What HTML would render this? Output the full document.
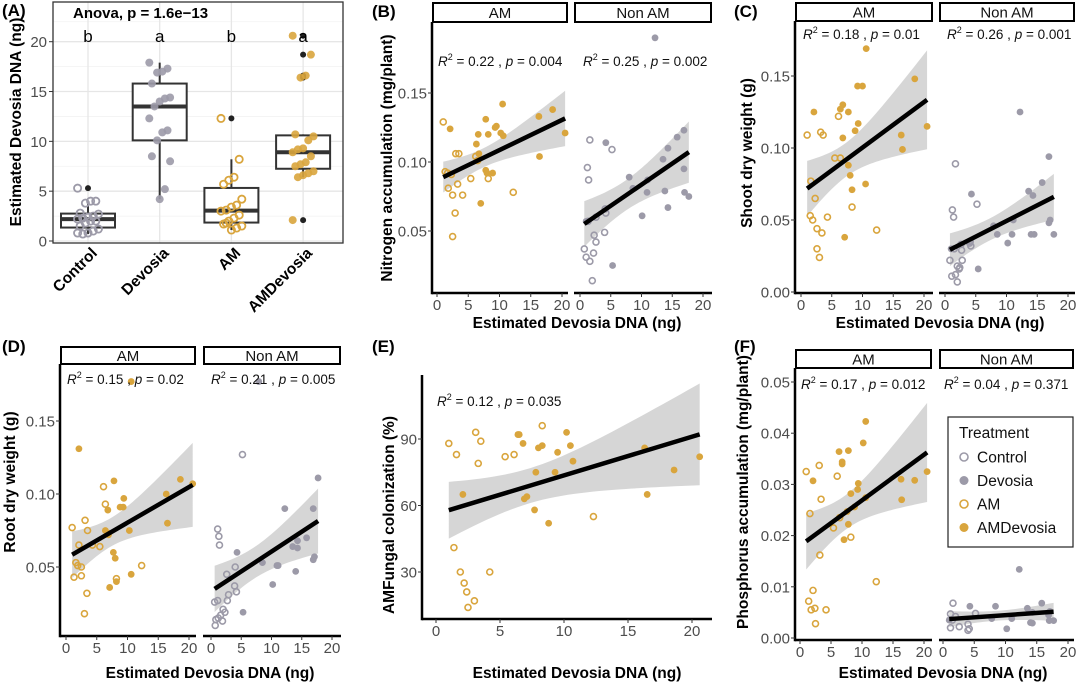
<!DOCTYPE html>
<html><head><meta charset="utf-8"><style>
html,body{margin:0;padding:0;background:#fff;}
svg{display:block;font-family:"Liberation Sans",Arial,sans-serif;}
</style></head><body>
<svg id="fig" width="1080" height="683" viewBox="0 0 1080 683" xmlns="http://www.w3.org/2000/svg"></svg>
<script>
// ===== Panel A data =====
const aCategories = ["Control","Devosia","AM","AMDevosia"];
const aControl = [5.3,4.0,4.0,3.8,2.8,2.7,2.5,2.4,2.3,2.2,2.0,2.0,1.8,1.5,1.2,1.0,0.8,0.7,0.8];
const aDevosia = [17.9,17.3,17.0,16.9,15.8,14.4,14.3,14.0,13.5,12.3,11.1,10.9,10.1,8.5,8.0,5.2,4.2];
const aAM = [12.3,8.2,6.4,6.1,5.7,4.2,3.6,3.4,3.1,3.0,2.6,2.3,2.0,1.7,1.5,1.3,1.1,1.8];
const aAMDevosia = [20.6,18.7,16.6,16.4,10.7,10.5,10.1,9.3,9.2,8.9,8.5,7.9,7.7,7.5,7.0,6.8,6.6,6.4,2.1];
const aLetters = ["b","a","b","a"];
const aTicks = [0,5,10,15,20];
// ===== Panel B =====
const bAmFilled = [[10.5,0.142],[18.5,0.138],[16.3,0.133],[7.8,0.131],[9.3,0.125],[9.5,0.126],[2.1,0.124],[6.6,0.120],[8.2,0.120],[10.2,0.121],[10.6,0.119],[20.5,0.121],[6.3,0.113],[6.7,0.106],[16.4,0.104],[7.8,0.094],[8.0,0.092],[8.9,0.092],[7.0,0.070]];
const bAmHollow = [[1.0,0.129],[3.0,0.106],[3.5,0.106],[6.2,0.104],[6.5,0.101],[1.3,0.093],[1.7,0.092],[2.3,0.091],[5.4,0.088],[8.2,0.088],[3.3,0.084],[1.8,0.081],[2.5,0.076],[4.1,0.076],[12.2,0.078],[2.9,0.063],[2.5,0.046]];
const bNonFilled = [[12.2,0.190],[4.2,0.114],[16.9,0.123],[15.8,0.118],[14.3,0.110],[13.5,0.102],[16.9,0.095],[8.0,0.089],[8.6,0.081],[11.0,0.087],[10.9,0.078],[13.8,0.079],[17.0,0.078],[17.7,0.075],[14.3,0.067],[10.1,0.061],[5.3,0.025],[1.0,0.057]];
const bNonHollow = [[1.6,0.116],[1.2,0.096],[1.4,0.087],[5.2,0.109],[4.1,0.066],[4.2,0.063],[2.6,0.060],[2.3,0.047],[2.6,0.042],[4.0,0.049],[0.7,0.037],[1.0,0.031],[1.6,0.028],[2.2,0.034],[2.0,0.014],[1.3,0.057]];
const bTicks = [0.05,0.10,0.15];
// ===== Panel C =====
const cAmFilled = [[10.6,0.169],[18.5,0.148],[9.2,0.143],[10.0,0.143],[2.1,0.125],[6.8,0.130],[6.4,0.127],[7.7,0.125],[9.3,0.117],[8.8,0.112],[6.8,0.107],[16.3,0.109],[20.5,0.115],[16.5,0.099],[7.7,0.088],[8.0,0.081],[10.5,0.075],[8.3,0.071],[7.1,0.038]];
const cAmHollow = [[1.0,0.109],[6.1,0.122],[3.2,0.111],[3.6,0.109],[5.5,0.093],[6.4,0.093],[1.6,0.077],[2.3,0.065],[8.3,0.059],[4.3,0.052],[1.5,0.053],[1.9,0.050],[2.6,0.044],[3.4,0.041],[12.3,0.043],[2.6,0.030],[3.0,0.024]];
const cNonFilled = [[12.2,0.125],[16.9,0.094],[15.8,0.076],[13.6,0.070],[14.3,0.067],[4.3,0.068],[17.1,0.050],[16.9,0.048],[11.1,0.050],[7.9,0.046],[8.5,0.040],[10.9,0.040],[14.0,0.040],[14.5,0.040],[17.7,0.040],[10.2,0.034],[5.4,0.016],[1.0,0.030]];
const cNonHollow = [[1.7,0.089],[5.2,0.061],[1.2,0.057],[1.4,0.052],[4.1,0.035],[4.2,0.032],[2.6,0.033],[2.7,0.029],[2.8,0.022],[0.8,0.022],[2.0,0.018],[2.3,0.016],[1.1,0.011],[1.7,0.012],[2.0,0.007],[1.5,0.030],[4.0,0.034],[2.4,0.017]];
const cTicks = [0.00,0.05,0.10,0.15];
// ===== Panel D =====
const dAmFilled = [[10.6,0.177],[2.1,0.131],[7.8,0.109],[18.6,0.110],[20.6,0.107],[9.4,0.097],[16.3,0.100],[8.8,0.091],[9.3,0.091],[6.8,0.089],[6.4,0.075],[10.3,0.075],[6.9,0.072],[16.5,0.080],[7.7,0.060],[8.0,0.056],[10.6,0.045],[8.2,0.040],[7.1,0.036]];
const dAmHollow = [[1.0,0.077],[6.1,0.105],[6.4,0.093],[3.1,0.082],[3.5,0.075],[2.1,0.065],[4.3,0.065],[5.5,0.064],[6.8,0.073],[1.6,0.053],[1.9,0.051],[2.5,0.050],[1.3,0.043],[2.5,0.044],[8.2,0.042],[12.3,0.051],[3.4,0.032],[3.0,0.018]];
const dNonFilled = [[7.9,0.177],[17.7,0.111],[12.2,0.090],[16.9,0.090],[15.8,0.070],[14.3,0.068],[13.5,0.064],[14.3,0.063],[8.5,0.053],[10.9,0.051],[11.1,0.051],[16.9,0.055],[17.1,0.057],[14.0,0.047],[4.3,0.060],[10.2,0.038],[5.3,0.019]];
const dNonHollow = [[5.2,0.127],[1.1,0.076],[1.3,0.071],[1.4,0.065],[4.0,0.050],[2.6,0.045],[3.9,0.037],[4.2,0.033],[2.9,0.031],[2.7,0.027],[0.6,0.026],[1.1,0.027],[2.0,0.021],[2.3,0.019],[0.8,0.014],[1.2,0.015],[1.9,0.013],[0.7,0.010],[1.6,0.017]];
const dTicks = [0.05,0.10,0.15];
// ===== Panel E =====
const eFilled = [[6.4,92],[6.5,92],[10.2,93],[6.8,88],[8.0,86],[8.3,87],[10.5,87],[9.5,84],[16.3,86],[20.6,82],[10.7,80],[7.8,75],[9.3,75],[18.6,76],[2.1,65],[16.5,65],[7.1,64],[6.9,63],[7.7,58],[8.8,52]];
const eHollow = [[8.3,96],[3.1,93],[1.0,88],[3.5,89],[1.6,83],[5.4,82],[6.1,83],[3.3,79],[12.3,55],[1.4,41],[1.9,30],[4.2,30],[2.2,25],[2.4,21],[3.0,17],[2.5,14]];
const eTicks = [30,60,90];
// ===== Panel F =====
const fAmFilled = [[10.6,0.0423],[10.2,0.0381],[6.3,0.0364],[7.8,0.0366],[6.8,0.0344],[6.8,0.034],[2.1,0.0307],[9.4,0.0302],[9.3,0.029],[8.2,0.0282],[16.3,0.031],[18.5,0.0308],[20.5,0.0325],[16.4,0.027],[10.6,0.0274],[8.8,0.0256],[7.6,0.0247],[7.8,0.0222],[7.1,0.0192]];
const fAmHollow = [[1.0,0.0325],[3.1,0.0337],[6.0,0.0316],[3.4,0.0271],[1.6,0.0243],[6.4,0.0235],[5.4,0.0215],[8.2,0.0197],[3.2,0.0162],[12.3,0.011],[2.1,0.0093],[1.4,0.0072],[1.8,0.0055],[2.4,0.0058],[4.2,0.0055],[2.5,0.0028]];
const fNonFilled = [[12.2,0.0134],[15.8,0.0068],[4.3,0.0062],[8.4,0.0062],[13.5,0.0058],[14.3,0.005],[17.1,0.0052],[16.9,0.0045],[7.8,0.0038],[11.0,0.0038],[17.0,0.0034],[17.7,0.0034],[14.0,0.003],[14.3,0.0029],[10.2,0.0018],[1.0,0.0035]];
const fNonHollow = [[1.6,0.0068],[1.2,0.0047],[5.2,0.0048],[1.5,0.0035],[2.6,0.0022],[1.2,0.002],[4.0,0.0027],[4.0,0.0015],[4.2,0.0018],[2.0,0.0042]];
const fTicks = [0.00,0.01,0.02,0.03,0.04,0.05];
const xTicks = [0,5,10,15,20];
const legendLabels = ["Control","Devosia","AM","AMDevosia"];

const GRAY="#9c9aa8", ORANGE="#d9a53d";
const svg=document.getElementById('fig');
const NS="http://www.w3.org/2000/svg";
function mk(tag,attrs,parent,txt){const e=document.createElementNS(NS,tag);for(const k in attrs)e.setAttribute(k,attrs[k]);if(txt!==undefined)e.textContent=txt;(parent||svg).appendChild(e);return e;}
function lin(d0,p0,d1,p1){return v=>p0+(v-d0)*(p1-p0)/(d1-d0);}

function label(x,y,t){const e=mk('text',{x:x,y:y,'font-size':17,'font-weight':'bold',fill:'#000'},svg,t);

}

function ytitle(x,y,t){const e=mk('text',{x:x,y:y,'font-size':15.5,'font-weight':'bold','text-anchor':'middle',transform:`rotate(-90 ${x} ${y})`},svg,t);

}
function xtitle(x,y,t){const e=mk('text',{x:x,y:y,'font-size':15.5,'font-weight':'bold','text-anchor':'middle'},svg,t);

}

function r2text(x,y,r,p){const g=mk('text',{x:x,y:y,'font-size':13.5,fill:'#111'},svg);


mk('tspan',{'font-style':'italic'},g,'R');mk('tspan',{dy:-6,'font-size':9},g,'2');mk('tspan',{dy:6},g,' = '+r+' , ');mk('tspan',{'font-style':'italic'},g,'p');mk('tspan',{},g,' = '+p);}

function regress(pts){const n=pts.length;let mx=0,my=0;pts.forEach(p=>{mx+=p[0];my+=p[1];});mx/=n;my/=n;let sxx=0,sxy=0;pts.forEach(p=>{sxx+=(p[0]-mx)**2;sxy+=(p[0]-mx)*(p[1]-my);});const b=sxy/sxx,a=my-b*mx;let sse=0;pts.forEach(p=>{sse+=(p[1]-a-b*p[0])**2;});const s=Math.sqrt(sse/(n-2));return {a,b,mx,sxx,n,s};}

function ribbon(g,pts,xs,ys,name){const r=regress(pts);const xmin=Math.min(...pts.map(p=>p[0])),xmax=Math.max(...pts.map(p=>p[0]));const t=2.03;const up=[],lo=[];for(let i=0;i<=40;i++){const x=xmin+(xmax-xmin)*i/40;const yh=r.a+r.b*x;const se=r.s*Math.sqrt(1/r.n+(x-r.mx)**2/r.sxx);up.push(xs(x)+','+ys(yh+t*se));lo.unshift(xs(x)+','+ys(yh-t*se));}
const rb=mk('polygon',{points:up.concat(lo).join(' '),fill:'#999999','fill-opacity':0.4,stroke:'none'},g);

}
function regline(g,pts,xs,ys,name){const r=regress(pts);const xmin=Math.min(...pts.map(p=>p[0])),xmax=Math.max(...pts.map(p=>p[0]));
const ln=mk('line',{x1:xs(xmin),y1:ys(r.a+r.b*xmin),x2:xs(xmax),y2:ys(r.a+r.b*xmax),stroke:'#000','stroke-width':4.5,'stroke-linecap':'butt'},g);

}

function points(g,pts,xs,ys,color,filled,name){pts.forEach(p=>{const c=mk('circle',{cx:xs(p[0]),cy:ys(p[1]),r:filled?3.4:3.0,fill:filled?color:'none',stroke:color,'stroke-width':filled?0:1.6},g);

});}

function facet(f,name){const g=mk('g',{},svg);
const xs=lin(0,f.xz,20,f.x20),ys=lin(f.yref[0],f.yref[1],f.yref[2],f.yref[3]);
if(f.strip){const s=mk('rect',{x:f.x0+1,y:f.stripTop,width:f.x1-f.x0-2,height:f.stripH,fill:'#fff',stroke:'#000','stroke-width':2},g);


const st=mk('text',{x:(f.x0+f.x1)/2,y:f.stripTop+f.stripH/2+5.5,'font-size':15,'text-anchor':'middle',fill:'#111'},g,f.strip);

}
const all=f.filled.concat(f.hollow);
ribbon(g,all,xs,ys,name);
points(g,f.hollow,xs,ys,f.color,false,name+'-hollow-point');
points(g,f.filled,xs,ys,f.color,true,name+'-filled-point');
regline(g,all,xs,ys,name);
const bl=mk('line',{x1:f.x0,y1:f.bottom,x2:f.x1,y2:f.bottom,stroke:'#000','stroke-width':2.5},g);


xTicks.forEach(v=>{mk('line',{x1:xs(v),y1:f.bottom,x2:xs(v),y2:f.bottom+4,stroke:'#333','stroke-width':1},g);
const t=mk('text',{x:xs(v),y:f.bottom+17,'font-size':15,'text-anchor':'middle',fill:'#4d4d4d'},g,v);

});
if(f.leftAxis){const ll=mk('line',{x1:f.x0,y1:f.top,x2:f.x0,y2:f.bottom+1.2,stroke:'#000','stroke-width':2.5},g);


f.ticks.forEach(v=>{mk('line',{x1:f.x0-4,y1:ys(v),x2:f.x0,y2:ys(v),stroke:'#333','stroke-width':1},g);
const t=mk('text',{x:f.x0-5,y:ys(v)+5.5,'font-size':15,'text-anchor':'end',fill:'#4d4d4d'},g,f.fmt(v));

});}
r2text(f.annX,f.annY,f.r2,f.p);}
const f2=v=>v.toFixed(2);

// ===== Panel A =====
(function(){const g=mk('g',{},svg);
const L=53,R=343,T=2,B=243;const ys=lin(0,241,20,41.7);const cx=i=>88+i*71.7;
[2.5,7.5,12.5,17.5,22].forEach(v=>mk('line',{x1:L,x2:R,y1:ys(v),y2:ys(v),stroke:'#f2f2f2','stroke-width':0.8},g));
aTicks.forEach(v=>mk('line',{x1:L,x2:R,y1:ys(v),y2:ys(v),stroke:'#e6e6e6','stroke-width':1.3},g));
aCategories.forEach((c,i)=>mk('line',{x1:cx(i),x2:cx(i),y1:T,y2:B,stroke:'#e6e6e6','stroke-width':1.3},g));
const groups=[aControl,aDevosia,aAM,aAMDevosia];const cols=[GRAY,GRAY,ORANGE,ORANGE];const fill=[false,true,false,true];
function q(arr,p){const s=arr.slice().sort((a,b)=>a-b);const h=(s.length-1)*p;const lo=Math.floor(h);return s[lo]+(s[Math.min(lo+1,s.length-1)]-s[lo])*(h-lo);}
groups.forEach((arr,i)=>{const q1=q(arr,.25),q2=q(arr,.5),q3=q(arr,.75),iqr=q3-q1;const inl=arr.filter(v=>v>=q1-1.5*iqr&&v<=q3+1.5*iqr);const lo=Math.min(...inl),hi=Math.max(...inl);const x=cx(i),w=27;
mk('line',{x1:x,x2:x,y1:ys(hi),y2:ys(q3),stroke:'#333','stroke-width':2},g);mk('line',{x1:x,x2:x,y1:ys(q1),y2:ys(lo),stroke:'#333','stroke-width':2},g);
const bx=mk('rect',{x:x-w,y:ys(q3),width:2*w,height:ys(q1)-ys(q3),fill:'#fff',stroke:'#333','stroke-width':2},g);


mk('line',{x1:x-w,x2:x+w,y1:ys(q2),y2:ys(q2),stroke:'#333','stroke-width':4},g);
arr.filter(v=>v<q1-1.5*iqr||v>q3+1.5*iqr).forEach(v=>{const o=mk('circle',{cx:x,cy:ys(v),r:3,fill:'#222'},g);

});
arr.forEach((v,j)=>{const off=((j*7)%9-4)*2.6;const c=mk('circle',{cx:x+off,cy:ys(v),r:fill[i]?4:3.6,fill:fill[i]?cols[i]:'none',stroke:cols[i],'stroke-width':fill[i]?0:1.8,'fill-opacity':0.9},g);

});
const lt=mk('text',{x:x,y:42,'font-size':17,'text-anchor':'middle'},g,aLetters[i]);


const cl=mk('text',{x:x+10,y:254,'font-size':15.5,'font-weight':'bold','text-anchor':'end',transform:`rotate(-45 ${x+10} 254)`},g,aCategories[i]);

});
const br=mk('rect',{x:L,y:T,width:R-L,height:B-T,fill:'none',stroke:'#333','stroke-width':1.3},g);


aTicks.forEach(v=>{mk('line',{x1:L-4,x2:L,y1:ys(v),y2:ys(v),stroke:'#333'},g);const t=mk('text',{x:L-6,y:ys(v)+5.5,'font-size':15,'text-anchor':'end',fill:'#4d4d4d'},g,v);

});
const an=mk('text',{x:73,y:18,'font-size':15,'font-weight':'bold'},g,'Anova, p = 1.6e\u221213');


})();
label(2,16,'(A)');ytitle(21,122,'Estimated Devosia DNA (ng)');

// ===== Panel B =====
label(372,17,'(B)');
facet({x0:432,x1:568,top:22,bottom:293,xz:437,x20:562,yref:[0.05,231,0.10,162],strip:'AM',stripTop:3,stripH:19,leftAxis:true,ticks:bTicks,fmt:f2,filled:bAmFilled,hollow:bAmHollow,color:ORANGE,r2:'0.22',p:'0.004',annX:438,annY:66},'b-am');
facet({x0:574,x1:712,top:22,bottom:293,xz:580,x20:703,yref:[0.05,231,0.10,162],strip:'Non AM',stripTop:3,stripH:19,leftAxis:false,ticks:bTicks,fmt:f2,filled:bNonFilled,hollow:bNonHollow,color:GRAY,r2:'0.25',p:'0.002',annX:583,annY:66},'b-nonam');
ytitle(392,158,'Nitrogen accumulation (mg/plant)');xtitle(577,328,'Estimated Devosia DNA (ng)');

// ===== Panel C =====
label(734,17,'(C)');
facet({x0:795,x1:933,top:21,bottom:293,xz:801,x20:924,yref:[0,292,0.15,76],strip:'AM',stripTop:3,stripH:18,leftAxis:true,ticks:cTicks,fmt:f2,filled:cAmFilled,hollow:cAmHollow,color:ORANGE,r2:'0.18',p:'0.01',annX:803,annY:39},'c-am');
facet({x0:939,x1:1075,top:21,bottom:293,xz:945,x20:1068,yref:[0,292,0.15,76],strip:'Non AM',stripTop:3,stripH:18,leftAxis:false,ticks:cTicks,fmt:f2,filled:cNonFilled,hollow:cNonHollow,color:GRAY,r2:'0.26',p:'0.001',annX:947,annY:39},'c-nonam');
ytitle(752,153,'Shoot dry weight (g)');xtitle(940,328,'Estimated Devosia DNA (ng)');

// ===== Panel D =====
label(2,352,'(D)');
facet({x0:60,x1:196,top:364,bottom:636,xz:66,x20:189,yref:[0.05,567,0.15,421],strip:'AM',stripTop:347,stripH:17,leftAxis:true,ticks:dTicks,fmt:f2,filled:dAmFilled,hollow:dAmHollow,color:ORANGE,r2:'0.15',p:'0.02',annX:67,annY:384},'d-am');
facet({x0:203,x1:341,top:364,bottom:636,xz:211,x20:332,yref:[0.05,567,0.15,421],strip:'Non AM',stripTop:347,stripH:17,leftAxis:false,ticks:dTicks,fmt:f2,filled:dNonFilled,hollow:dNonHollow,color:GRAY,r2:'0.21',p:'0.005',annX:211,annY:384},'d-nonam');
ytitle(15,482,'Root dry weight (g)');xtitle(210,678,'Estimated Devosia DNA (ng)');

// ===== Panel E =====
label(372,352,'(E)');
facet({x0:422,x1:712,top:375,bottom:619,xz:436,x20:692,yref:[30,572,90,439],strip:null,leftAxis:true,ticks:eTicks,fmt:v=>String(v),filled:eFilled,hollow:eHollow,color:ORANGE,r2:'0.12',p:'0.035',annX:437,annY:406},'e');
ytitle(394,515,'AMFungal colonization (%)');xtitle(577,678,'Estimated Devosia DNA (ng)');

// ===== Panel F =====
label(734,352,'(F)');
facet({x0:795,x1:932,top:368,bottom:640,xz:800,x20:924,yref:[0,638,0.05,382],strip:'AM',stripTop:350,stripH:18,leftAxis:true,ticks:fTicks,fmt:f2,filled:fAmFilled,hollow:fAmHollow,color:ORANGE,r2:'0.17',p:'0.012',annX:801,annY:389},'f-am');
facet({x0:939,x1:1074,top:368,bottom:640,xz:943,x20:1068,yref:[0,638,0.05,382],strip:'Non AM',stripTop:350,stripH:18,leftAxis:false,ticks:fTicks,fmt:f2,filled:fNonFilled,hollow:fNonHollow,color:GRAY,r2:'0.04',p:'0.371',annX:944,annY:389},'f-nonam');
ytitle(748,492,'Phosphorus accumulation (mg/plant)');xtitle(943,678,'Estimated Devosia DNA (ng)');

// Legend
(function(){const g=mk('g',{},svg);
mk('rect',{x:948,y:417,width:125,height:130,fill:'#fff',stroke:'#222','stroke-width':1.2},g);
const tt=mk('text',{x:959,y:438,'font-size':15.5,fill:'#111'},g,'Treatment');


const lc=[GRAY,GRAY,ORANGE,ORANGE],lf=[false,true,false,true];
legendLabels.forEach((t,i)=>{const y=457+i*23.5;const c=mk('circle',{cx:964,cy:y,r:lf[i]?4.5:4,fill:lf[i]?lc[i]:'none',stroke:lc[i],'stroke-width':lf[i]?0:1.6},g);


const tx=mk('text',{x:977,y:y+5.5,'font-size':15.5,fill:'#111'},g,t);

});})();
</script>
</body></html>
